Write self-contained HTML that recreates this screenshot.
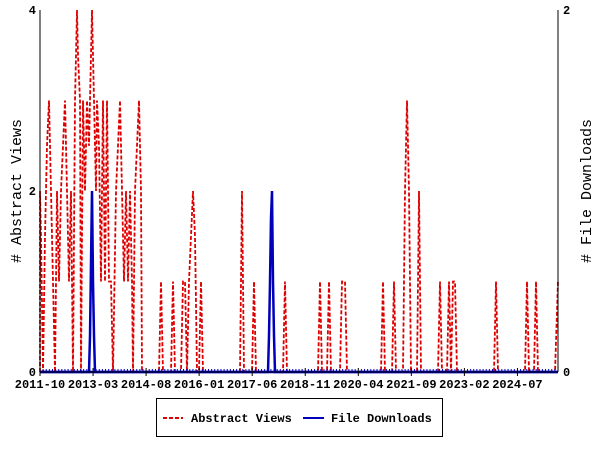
<!DOCTYPE html>
<html><head><meta charset="utf-8"><style>
html,body{margin:0;padding:0;background:#fff;width:600px;height:450px;overflow:hidden}
text{font-family:"Liberation Mono","DejaVu Sans Mono",monospace;font-size:12px;font-weight:bold;fill:#000}
</style></head><body>
<svg id="s" width="600" height="450" xmlns="http://www.w3.org/2000/svg">
<rect x="0" y="0" width="600" height="450" fill="#fff"/>
<g id="red" fill="none" stroke="#dd0000" stroke-width="1.8" stroke-dasharray="4,2"></g>
<g id="blue" fill="none" stroke="#0000bb" stroke-width="2.5"></g>
<g id="ax" stroke="#000" stroke-width="1"></g>
<line x1="40" y1="10" x2="40" y2="372" stroke="#000"/>
<line x1="558" y1="10" x2="558" y2="372" stroke="#000"/>
<line x1="40" y1="372" x2="558" y2="372" stroke="#000"/>
<text x="36" y="14" text-anchor="end">4</text>
<text x="36" y="195" text-anchor="end">2</text>
<text x="36" y="376" text-anchor="end">0</text>
<text x="563" y="14">2</text>
<text x="563" y="376">0</text>
<g id="lbl"></g>
<text transform="translate(21,191) rotate(-90)" text-anchor="middle" style="font-size:15px;font-weight:normal"># Abstract Views</text>
<text transform="translate(591,191) rotate(-90)" text-anchor="middle" style="font-size:15px;font-weight:normal"># File Downloads</text>
<rect x="156.5" y="398.5" width="286" height="38" fill="none" stroke="#000"/>
<line x1="163" y1="418" x2="183" y2="418" stroke="#dd0000" stroke-width="2" stroke-dasharray="4,2"/>
<text x="191" y="422">Abstract Views</text>
<line x1="303" y1="418" x2="324" y2="418" stroke="#0000bb" stroke-width="2"/>
<text x="331" y="422">File Downloads</text>
</svg>
<script>
var x0=40,x1=558,y0=372,N=x1-x0+1;
var pts=[[40,2],[41,1.5],[43,0],[45,1.5],[47,2.5],[49,3],[51,2],[53,1],[55,0],[57,2],[59,1],[61,2],[63,2.5],[65,3],[67,2],[69,1],[71,2],[73,0],[75,3],[77,4],[78,3.5],[80,3],[81,0],[83,3],[85,2],[87,3],[89,2.5],[90,3],[92,4],[94,3],[96,2],[97,3],[99,2.5],[101,1],[103,3],[105,1],[107,3],[109,1],[111,1],[113,0],[116,2],[118,2.5],[120,3],[122,2],[124,1],[126,2],[128,1],[130,2],[132,1],[133,0],[135,2],[137,2.5],[139,3],[141,2],[142,0],
[159,0],[161,1],[163,0],[171,0],[173,1],[175,0],[181,0],[183,1],[185,1],[187,0],[189,1],[191,1.5],[193,2],[195,1.5],[197,0],[199,0],[201,1],[203,0],
[240,0],[242,2],[244,0],[252,0],[254,1],[256,0],[283,0],[285,1],[287,0],[318,0],[320,1],[322,0],[327,0],[329,1],[331,0],[340,0],[342,1],[345,1],[347,0],[381,0],[383,1],[385,0],[392,0],[394,1],[396,0],[403,0],[405,2],[407,3],[409,2],[411,0],[417,0],[419,2],[421,0],[438,0],[440,1],[442,0],[447,0],[449,1],[451,0],[453,1],[455,1],[457,0],[494,0],[496,1],[498,0],[525,0],[527,1],[529,0],[534,0],[536,1],[538,0],[555,0],[558,1]];
var ns="http://www.w3.org/2000/svg";
function pl(p,sc,g){var s=[[x0,0]].concat(p).map(function(q){return q[0]+","+(y0-q[1]*sc).toFixed(1)}).join(" ");
var e=document.createElementNS(ns,"polyline");e.setAttribute("points",s);document.getElementById(g).appendChild(e);}
pl(pts,90.5,"red");
pl([[89,0],[90,0.2],[91,0.6],[92,1],[93,0.5],[94,0.2],[95,0],[558,0]],181,"blue");
pl([[268,0],[269,0.2],[270,0.5],[271,0.85],[272,1],[273,0.5],[274,0.2],[275,0],[558,0]],181,"blue");
var ax=document.getElementById("ax"),lb=document.getElementById("lbl");
var labs=["2011-10","2013-03","2014-08","2016-01","2017-06","2018-11","2020-04","2021-09","2023-02","2024-07"];
var M=167,dx=(x1-x0)/(M-1);
for(var i=0;i<M;i++){var x=x0+i*dx;var l=document.createElementNS(ns,"line");l.setAttribute("x1",x);l.setAttribute("x2",x);
var maj=(i%17==0);l.setAttribute("y1",maj?368:369);l.setAttribute("y2",maj?376:372);if(!maj)l.setAttribute("stroke","#0000bb");ax.appendChild(l);
if(maj&&labs[i/17]){var t=document.createElementNS(ns,"text");t.setAttribute("x",x);t.setAttribute("y",388);t.setAttribute("text-anchor","middle");t.textContent=labs[i/17];lb.appendChild(t);}}
</script>
</body></html>
